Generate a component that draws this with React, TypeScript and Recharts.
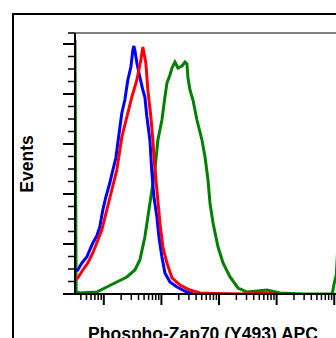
import { Line, LineChart, ReferenceLine, XAxis, YAxis } from "recharts";

// x values are log10 of APC intensity, y values are event counts
const blueX = [0.5, 0.548, 0.617, 0.704, 0.809, 0.878, 0.93, 0.983, 1.035, 1.104, 1.157, 1.209, 1.243, 1.278, 1.313, 1.365, 1.417, 1.47, 1.504, 1.522, 1.539, 1.574, 1.626, 1.678, 1.713, 1.748, 1.8, 1.835, 1.87, 1.922, 1.957, 2.009, 2.061, 2.148, 2.27, 2.443, 2.548];
const blueY = [23, 24, 31, 37, 51, 58, 67, 84, 97, 111, 124, 136, 151, 166, 181, 194, 214, 227, 244, 248, 244, 231, 217, 204, 197, 177, 154, 121, 97, 77, 57, 37, 21, 12, 7, 2, 0];

const redX = [0.5, 0.548, 0.635, 0.722, 0.809, 0.878, 0.965, 1.052, 1.139, 1.226, 1.278, 1.313, 1.4, 1.487, 1.574, 1.643, 1.678, 1.73, 1.765, 1.817, 1.852, 1.87, 1.922, 1.974, 2.026, 2.096, 2.183, 2.322, 2.496, 2.67, 2.93, 3.365, 3.817, 3.974];
const redY = [17, 16, 24, 31, 41, 51, 64, 84, 104, 124, 144, 157, 177, 197, 214, 234, 247, 231, 204, 177, 154, 137, 104, 71, 47, 31, 16, 9, 4, 1, 0.5, 0, 1, 0];

const greenX = [0.5, 0.52, 0.583, 0.878, 1.052, 1.226, 1.4, 1.539, 1.626, 1.713, 1.765, 1.835, 1.887, 1.939, 2.009, 2.061, 2.096, 2.148, 2.183, 2.235, 2.287, 2.357, 2.409, 2.443, 2.461, 2.496, 2.548, 2.617, 2.704, 2.757, 2.809, 2.843, 2.896, 2.983, 3.07, 3.191, 3.33, 3.487, 3.661, 3.835, 4.061, 4.461, 4.965, 5.0, 5.035, 5.07];
const greenY = [254, 2, 1, 2, 7, 12, 17, 24, 34, 57, 77, 104, 124, 154, 174, 197, 211, 219, 226, 232, 226, 228, 232, 230, 216, 204, 194, 174, 154, 137, 114, 91, 71, 47, 31, 17, 6, 2, 3, 4, 1, 0, 0, 11, 19, 54];

const decades = [0, 1, 2, 3, 4, 5];
const yMajor = [0, 50, 100, 150, 200, 250];
const yMinor = [12.5, 25, 37.5, 62.5, 75, 87.5, 112.5, 125, 137.5, 162.5, 175, 187.5, 212.5, 225, 237.5, 261];

const xTitle = "Phospho-Zap70 (Y493) APC";
const yTitle = "Events";

const X_DOMAIN: [number, number] = [0.5, 5.1];
const Y_DOMAIN: [number, number] = [0, 261];

const zip = (xs: number[], ys: number[]) => xs.map((x, i) => ({ x, y: ys[i] }));

const xTicks: number[] = [];
decades.forEach((d) => {
  for (let k = 1; k <= 9; k++) {
    const v = d + Math.log10(k);
    if (v >= X_DOMAIN[0] && v <= X_DOMAIN[1]) xTicks.push(v);
  }
});
const isMajorX = (v: number) => decades.some((d) => Math.abs(v - d) < 1e-9);

const XTick = (props: any) => {
  const { x, y, payload } = props;
  const major = isMajorX(payload.value);
  return <line x1={x} y1={y} x2={x} y2={y + (major ? 11 : 6)} stroke="#000" strokeWidth={major ? 2 : 1.5} />;
};

const YTick = (props: any) => {
  const { x, y, payload } = props;
  const major = yMajor.includes(payload.value);
  return <line x1={x - (major ? 12 : 7)} y1={y} x2={x} y2={y} stroke="#000" strokeWidth={major ? 2 : 1.5} />;
};

export default function App() {
  return (
    <div style={{ position: "fixed", left: 0, top: 0, width: 336, height: 338, overflow: "hidden", background: "#fff" }}>
      <div style={{ position: "absolute", left: 12, top: 13, width: 400, height: 400, border: "2px solid #000" }} />
      <div style={{ position: "absolute", left: 0, top: 0 }}>
        <LineChart width={380} height={380} margin={{ top: 33, right: 380 - 340, bottom: 76, left: 65 }}>
          <XAxis
            type="number"
            dataKey="x"
            domain={X_DOMAIN}
            allowDataOverflow
            ticks={xTicks}
            interval={0}
            tickSize={0}
            tickMargin={0}
            tick={<XTick />}
            height={10}
            axisLine={{ stroke: "#000", strokeWidth: 2 }}
          />
          <YAxis
            type="number"
            domain={Y_DOMAIN}
            allowDataOverflow
            ticks={[...yMajor, ...yMinor]}
            interval={0}
            tickSize={0}
            tickMargin={0}
            tick={<YTick />}
            width={10}
            axisLine={{ stroke: "#000", strokeWidth: 2 }}
          />
          <ReferenceLine y={261} stroke="#000" strokeWidth={1} />
          <Line data={zip(greenX, greenY)} dataKey="y" type="linear" stroke="#008000" strokeWidth={3} dot={false} isAnimationActive={false} />
          <Line data={zip(blueX, blueY)} dataKey="y" type="linear" stroke="#0000ff" strokeWidth={3} dot={false} isAnimationActive={false} />
          <Line data={zip(redX, redY)} dataKey="y" type="linear" stroke="#ff0000" strokeWidth={3} dot={false} isAnimationActive={false} />
        </LineChart>
      </div>
      <svg width={336} height={338} style={{ position: "absolute", left: 0, top: 0, pointerEvents: "none" }}>
        <text x={203} y={340} textAnchor="middle" fontFamily="'Liberation Sans', Arial, sans-serif" fontWeight="bold" fontSize={17.5} fill="#000">
          {xTitle}
        </text>
        <text
          x={0}
          y={0}
          transform="translate(32.5,164) rotate(-90)"
          textAnchor="middle"
          fontFamily="'Liberation Sans', Arial, sans-serif"
          fontWeight="bold"
          fontSize={17.5}
          fill="#000"
        >
          {yTitle}
        </text>
      </svg>
    </div>
  );
}
